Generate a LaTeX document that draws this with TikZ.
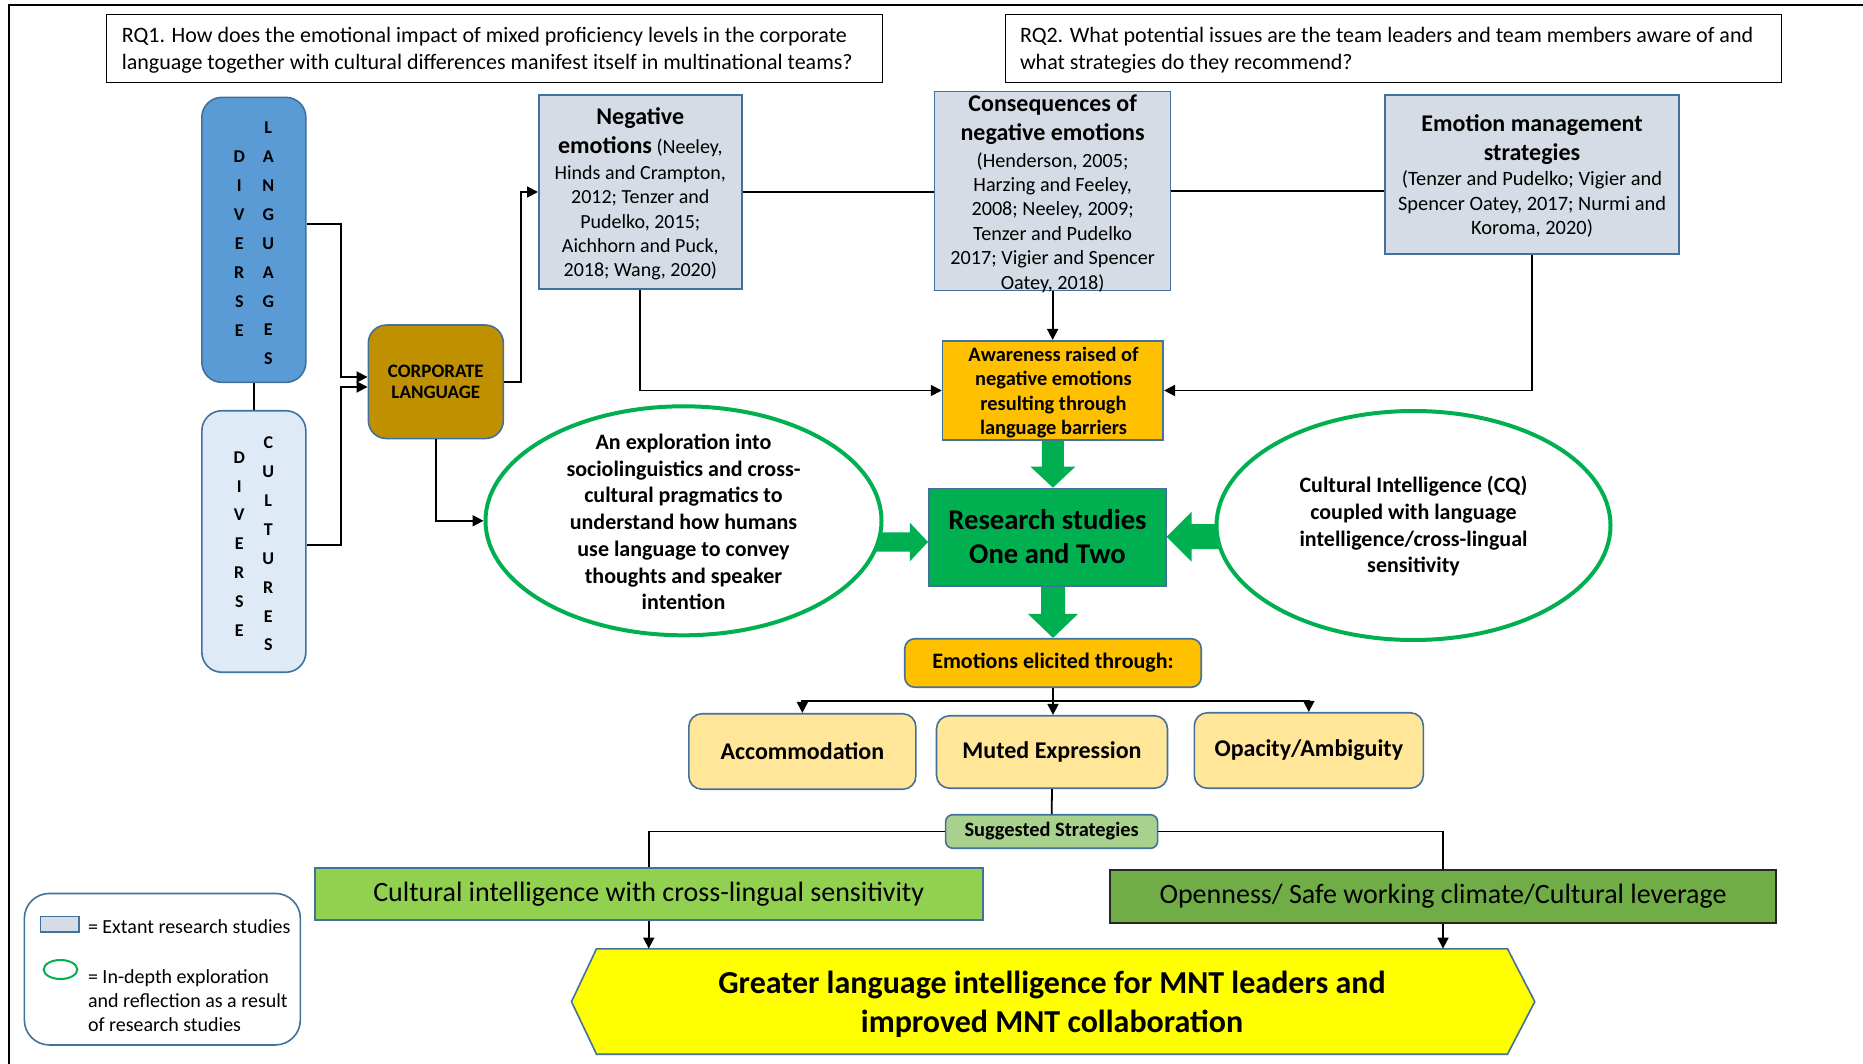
\documentclass[tikz,border=0pt]{standalone}
\usepackage{fontspec}
\setmainfont{Carlito}
\usetikzlibrary{arrows.meta,calc,shapes.geometric}

\definecolor{bord}{HTML}{41719C}
\definecolor{langblue}{HTML}{5B9BD5}
\definecolor{cultblue}{HTML}{DEEBF7}
\definecolor{gold}{HTML}{BF9000}
\definecolor{litegray}{HTML}{D6DCE5}
\definecolor{amber}{HTML}{FFC000}
\definecolor{resgreen}{HTML}{00B050}
\definecolor{paleyel}{HTML}{FFE699}
\definecolor{sugggreen}{HTML}{A9D18E}
\definecolor{limegreen}{HTML}{92D050}
\definecolor{olivegreen}{HTML}{70AD47}
\definecolor{brightyel}{HTML}{FFFF00}

\newcommand{\boxhead}{\bfseries\fontsize{24}{29}\selectfont}

\begin{document}
\begin{tikzpicture}[x=1pt,y=-1pt,
  box/.style={draw=bord, line width=1.6pt, inner sep=0pt, align=center},
  txt/.style={inner sep=0pt, align=center},
  letters/.style={inner sep=0pt, align=center, font=\bfseries\fontsize{18}{28.9}\selectfont},
  link/.style={line width=1.8pt},
  arr/.style={line width=1.8pt, -{Triangle[width=11pt,length=11pt]}},
  fat/.style={fill=resgreen},
  ring/.style={ellipse, draw=resgreen, line width=4pt, fill=white, inner sep=0pt},
]
\useasboundingbox (0,0) rectangle (1863,1064);
\fill[white] (0,0) rectangle (1863,1064);

% outer frame
\draw[line width=2.5pt] (9,1064) -- (9,5) -- (1863,5);

% research questions
\node[draw, line width=1.5pt, minimum width=776pt, minimum height=68pt, inner sep=0pt] (rq1) at (494.5,48.5) {};
\node[anchor=west, align=left, inner sep=0pt, font=\fontsize{22}{27}\selectfont] (rq1txt) at (121.6,50)
  {RQ1. How does the emotional impact of mixed proficiency levels in the corporate\\language together with cultural differences manifest itself in multinational teams?};
\node[draw, line width=1.5pt, minimum width=776pt, minimum height=68pt, inner sep=0pt] (rq2) at (1393.55,48.5) {};
\node[anchor=west, align=left, inner sep=0pt, font=\fontsize{22}{27}\selectfont] (rq2txt) at (1019.8,50)
  {RQ2. What potential issues are the team leaders and team members aware of and\\what strategies do they recommend?};

% diverse languages / cultures
\node[box, fill=langblue, rounded corners=20pt, minimum width=104pt, minimum height=285pt] (dl) at (253.85,239.85) {};
\node[letters] (dlA) at (239.3,243.5) {D\\I\\V\\E\\R\\S\\E};
\node[letters] (dlB) at (268.3,243.5) {L\\A\\N\\G\\U\\A\\G\\E\\S};
\node[box, fill=cultblue, rounded corners=20pt, minimum width=104pt, minimum height=261.5pt] (dc) at (253.85,541.5) {};
\node[letters] (dcA) at (239.3,544) {D\\I\\V\\E\\R\\S\\E};
\node[letters] (dcB) at (268.3,544) {C\\U\\L\\T\\U\\R\\E\\S};

% corporate language
\node[box, fill=gold, rounded corners=18pt, minimum width=135pt, minimum height=113.5pt,
      font=\bfseries\fontsize{19}{21.5}\selectfont] (corp) at (435.85,381.8) {CORPORATE\\LANGUAGE};

% extant research boxes
\node[box, fill=litegray, minimum width=203pt, minimum height=194.5pt] (neg) at (640.3,192) {};
\node[txt, font=\fontsize{20}{24.4}\selectfont] (negtxt) at (640.3,194)
  {{\boxhead Negative}\\[4.6pt]
   {\boxhead emotions} (Neeley,\\[1.2pt]
   Hinds and Crampton,\\2012; Tenzer and\\Pudelko, 2015;\\Aichhorn and Puck,\\2018; Wang, 2020)};
\node[box, fill=litegray, minimum width=236pt, minimum height=199pt] (con) at (1052.65,190.85) {};
\node[txt, font=\fontsize{20.2}{24.4}\selectfont] (contxt) at (1052.65,193.5)
  {{\boxhead Consequences of}\\[4.6pt]
   {\boxhead negative emotions}\\[2.2pt]
   (Henderson, 2005;\\Harzing and Feeley,\\2008; Neeley, 2009;\\Tenzer and Pudelko\\2017; Vigier and Spencer\\Oatey, 2018)};
\node[box, fill=litegray, minimum width=294.5pt, minimum height=159.5pt] (emm) at (1532,174.5) {};
\node[txt, font=\fontsize{20.4}{24.4}\selectfont] (emmtxt) at (1532,176)
  {{\boxhead Emotion management}\\[4.6pt]
   {\boxhead strategies}\\[1.2pt]
   (Tenzer and Pudelko; Vigier and\\Spencer Oatey, 2017; Nurmi and\\Koroma, 2020)};

% awareness and research studies
\node[box, fill=amber, minimum width=220.7pt, minimum height=99.5pt] (aw) at (1052.9,390.5) {};
\node[txt, font=\bfseries\fontsize{20.4}{24.4}\selectfont] (awtxt) at (1053.5,392.5)
  {Awareness raised of\\negative emotions\\resulting through\\language barriers};
\node[box, fill=resgreen, minimum width=237pt, minimum height=97.5pt] (rs) at (1047.35,537.2) {};
\node[txt, font=\bfseries\fontsize{28.6}{34}\selectfont] (rstxt) at (1047.5,537)
  {Research studies\\One and Two};

% block arrows around the research studies
\coordinate (tipA) at (aw.south |- rs.north);
\fill[fat] ($(aw.south)+(-11,0)$) -- ($(aw.south)+(11,0)$) -- ($(tipA)+(11,-21)$) -- ($(tipA)+(22.5,-21)$)
  -- (tipA) -- ($(tipA)+(-22.5,-21)$) -- ($(tipA)+(-11,-21)$) -- cycle;
\coordinate (tipC) at ($(rs.west)+(0,4.8)$);
\fill[fat] ($(tipC)+(-18.3,-9.7)$) -- ($(tipC)+(-75,-9.7)$) -- ($(tipC)+(-75,9.7)$) -- ($(tipC)+(-18.3,9.7)$)
  -- ($(tipC)+(-18.3,19.4)$) -- (tipC) -- ($(tipC)+(-18.3,-19.4)$) -- cycle;
\coordinate (tipD) at ($(rs.east)+(0,-0.5)$);
\fill[fat] ($(tipD)+(25,-12.5)$) -- ($(tipD)+(80,-12.5)$) -- ($(tipD)+(80,12.5)$) -- ($(tipD)+(25,12.5)$)
  -- ($(tipD)+(25,25)$) -- (tipD) -- ($(tipD)+(25,-25)$) -- cycle;

% in-depth exploration ellipses
\node[ring, minimum width=396pt, minimum height=229pt] (exp) at (683.5,520.8) {};
\node[txt, font=\bfseries\fontsize{22}{26.7}\selectfont] (exptxt) at (683.5,522)
  {An exploration into\\sociolinguistics and cross-\\cultural pragmatics to\\understand how humans\\use language to convey\\thoughts and speaker\\intention};
\node[ring, minimum width=394pt, minimum height=229pt] (cq) at (1413.5,525.5) {};
\node[txt, font=\bfseries\fontsize{22}{26.7}\selectfont] (cqtxt) at (1413.5,526.5)
  {Cultural Intelligence (CQ)\\coupled with language\\intelligence/cross-lingual\\sensitivity};

% emotions elicited
\node[box, fill=amber, rounded corners=10pt, minimum width=296.5pt, minimum height=48.5pt,
      font=\bfseries\fontsize{22}{26}\selectfont] (emo) at (1053,663) {Emotions elicited through:};
\coordinate (tipB) at (emo.north);
\fill[fat] ($(tipB |- rs.south)+(-12,0)$) -- ($(tipB |- rs.south)+(12,0)$) -- ($(tipB)+(12,-24)$) -- ($(tipB)+(25,-24)$)
  -- (tipB) -- ($(tipB)+(-25,-24)$) -- ($(tipB)+(-12,-24)$) -- cycle;

\node[box, fill=paleyel, rounded corners=13pt, minimum width=227pt, minimum height=75.5pt,
      font=\bfseries\fontsize{24}{28}\selectfont] (acc) at (802.35,751.5) {Accommodation};
\node[box, fill=paleyel, rounded corners=13pt, minimum width=231pt, minimum height=72.5pt,
      font=\bfseries\fontsize{24}{28}\selectfont] (mut) at (1052,752) {Muted Expression};
\node[box, fill=paleyel, rounded corners=13pt, minimum width=229pt, minimum height=75.5pt,
      font=\bfseries\fontsize{24}{28}\selectfont] (opa) at (1308.8,750.5) {Opacity/Ambiguity};

% suggested strategies
\node[box, fill=sugggreen, rounded corners=7pt, minimum width=212pt, minimum height=33.5pt,
      font=\bfseries\fontsize{20.4}{24}\selectfont] (sug) at (1051.65,831.5) {Suggested Strategies};
\node[box, fill=limegreen, minimum width=668pt, minimum height=52.5pt,
      font=\fontsize{28}{33}\selectfont] (cul) at (648.75,894) {Cultural intelligence with cross-lingual sensitivity};
\node[box, draw=black!85, line width=2pt, fill=olivegreen, minimum width=666.5pt, minimum height=52.5pt,
      font=\fontsize{28}{33}\selectfont] (opn) at (1443,896.3) {Openness/ Safe working climate/Cultural leverage};

% outcome
\draw[draw=bord, line width=1.6pt, fill=brightyel] (571.5,1001.7) -- (596.5,948.8) -- (1507.5,948.8)
  -- (1534.8,1001.7) -- (1507.5,1054.2) -- (596.5,1054.2) -- cycle;
\node[inner sep=0pt, minimum width=911pt, minimum height=105.4pt] (greater) at (1052,1001.5) {};
\node[txt, font=\bfseries\fontsize{32}{39}\selectfont] (greatertxt) at (1052,1004)
  {Greater language intelligence for MNT leaders and\\improved MNT collaboration};

% legend
\node[box, fill=white, rounded corners=25pt, minimum width=276pt, minimum height=151.5pt] (legend) at (162.35,969.2) {};
\node[box, fill=litegray, minimum width=38.5pt, minimum height=15.5pt] (legrect) at (59.6,924.2) {};
\node[ellipse, draw=resgreen, line width=2pt, inner sep=0pt, minimum width=33.6pt, minimum height=19pt] (legring) at (60.5,969.5) {};
\node[anchor=west, inner sep=0pt, font=\fontsize{20}{24}\selectfont] (legtxtA) at (87.8,927) {= Extant research studies};
\node[anchor=west, align=left, inner sep=0pt, font=\fontsize{20}{24}\selectfont] (legtxtB) at (87.8,1001)
  {= In-depth exploration\\and reflection as a result\\of research studies};

% connectors, upper part
\draw[link] (dl.south) -- (dc.north);
\draw[arr] ($(dl.east)+(0,-15.85)$) -- ++(34.3,0) |- ($(corp.west)+(0,-4.8)$);
\draw[arr] ($(dc.east)+(0,3.5)$) -- ++(34.3,0) |- ($(corp.west)+(0,5.2)$);
\draw[arr] (corp.east) -- ++(17,0) |- (neg.west);
\draw[arr] (corp.south) |- (exp.west);
\draw[link] (neg.east) -- (neg.east -| con.west);
\draw[link] (con.east) -- (con.east -| emm.west);
\draw[arr] (neg.south) |- (aw.west);
\draw[arr] (con.south) -- (con.south |- aw.north);
\draw[arr] (emm.south) |- (aw.east);

% connectors, lower part
\coordinate (split) at ($(emo.south)+(0,13)$);
\draw[link] (emo.south) -- (split);
\draw[arr] (split) -| (acc.north);
\draw[arr] (split) -| (opa.north);
\draw[arr] (split) -- (split |- mut.north);
\draw[link] (mut.south) -- (sug.north);
\draw[link] (sug.west) -| (cul.north);
\draw[link] (sug.east) -| (opn.north);
\draw[arr] (cul.south) -- (cul.south |- greater.north);
\draw[arr] (opn.south) -- (opn.south |- greater.north);
\end{tikzpicture}
\end{document}
